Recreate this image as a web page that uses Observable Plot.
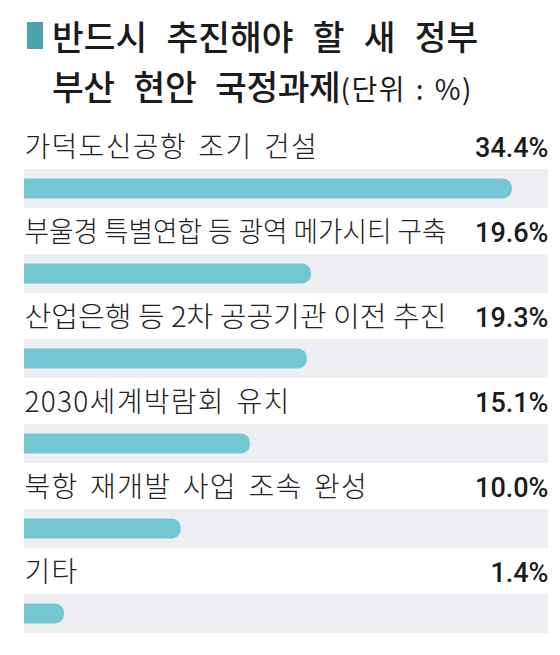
<!DOCTYPE html>
<html><head><meta charset="utf-8">
<script src="https://cdn.jsdelivr.net/npm/d3@7"></script>
<script src="https://cdn.jsdelivr.net/npm/@observablehq/plot@0.6"></script>
<style>
body{margin:0;background:#fff;width:560px;height:655px;overflow:hidden;font-family:"Noto Sans CJK KR",sans-serif;}
#head{position:relative;height:120px;}
#sq{position:absolute;left:27px;top:22px;width:16px;height:27px;background:#4ba3ad;}
.t{position:absolute;left:52px;font-size:34.5px;line-height:50px;font-weight:500;color:#1b1b1b;white-space:nowrap;word-spacing:11.5px;}
.t2{letter-spacing:-0.4px;}
.u{font-size:28px;font-weight:400;word-spacing:2px;letter-spacing:1.5px;}
#chart svg{display:block;}
</style></head>
<body>
<div id="head">
<div id="sq"></div>
<div class="t" style="top:10px">반드시 추진해야 할 새 정부</div>
<div class="t t2" style="top:60px">부산 현안 국정과제<span class="u">(단위 : %)</span></div>
</div>
<div id="chart"></div>
<script>
const labels = ["가덕도신공항 조기 건설","부울경 특별연합 등 광역 메가시티 구축","산업은행 등 2차 공공기관 이전 추진","2030세계박람회 유치","북항 재개발 사업 조속 완성","기타"];
const values = [34.4, 19.6, 19.3, 15.1, 10.0, 1.4];
const data = labels.map((label, i) => ({label, value: values[i]}));
const xMax = 37.06;

const chart = Plot.plot({
  width: 560,
  height: 535,
  marginLeft: 24,
  marginRight: 12,
  marginTop: 0,
  marginBottom: 0,
  x: {domain: [0, xMax], range: [45, 548], axis: null},
  y: {domain: labels, range: [47, 514], paddingInner: 0.544, paddingOuter: 0, axis: null},
  marks: [
    Plot.barX(data, {x1: 0, x2: xMax, y: "label", fill: "#eeeff3", insetLeft: -31, clip: true}),
    Plot.barX(data, {x: "value", y: "label", fill: "#73c6d2", insetTop: 9.5, insetBottom: 9.5, insetLeft: -31, rx: 9, clip: true}),
    Plot.text(data, {y: "label", text: "label", frameAnchor: "left", textAnchor: "start", lineAnchor: "bottom", dy: -32, fontSize: 28, fontWeight: 300, fill: "#222", fontFamily: "Noto Sans CJK KR"}),
    Plot.text(data, {y: "label", text: d => d.value.toFixed(1) + "%", frameAnchor: "right", textAnchor: "end", lineAnchor: "bottom", dy: -32, fontSize: 27, fontWeight: 500, fill: "#1b1b1b", fontFamily: "Roboto", letterSpacing: "-0.5px"})
  ]
});
document.getElementById("chart").appendChild(chart);

// label typography: slight tracking; squeeze labels that would run into the value column
const labelGroup = chart.querySelectorAll('g[aria-label="text"]')[0];
const maxLen = 422;
labelGroup.querySelectorAll("text").forEach(t => {
  t.style.letterSpacing = "1.3px";
  t.style.wordSpacing = "4px";
  const len = t.getComputedTextLength();
  if (len > maxLen) {
    t.style.letterSpacing = "0px";
    t.style.wordSpacing = "0px";
    t.setAttribute("textLength", maxLen);
    t.setAttribute("lengthAdjust", "spacingAndGlyphs");
  }
});
</script>
</body></html>
